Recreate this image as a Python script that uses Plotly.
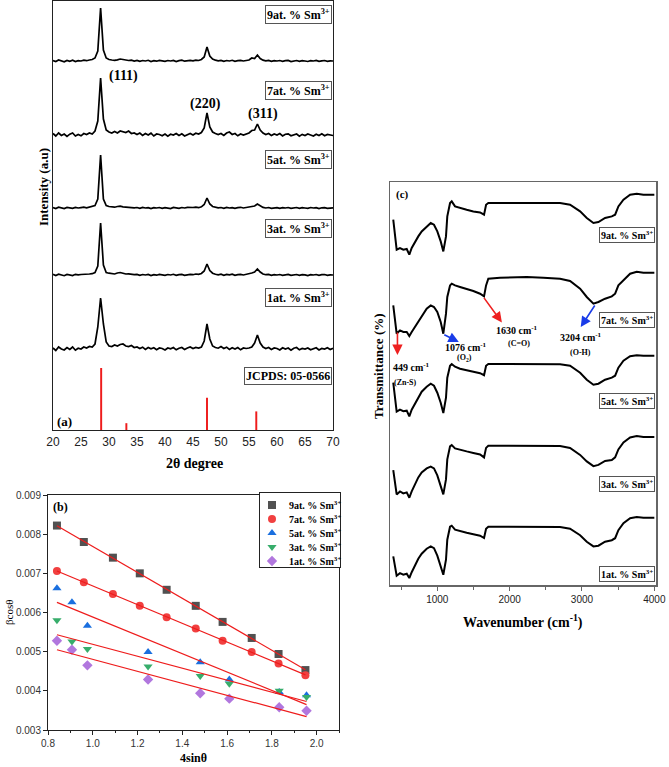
import numpy as np
import plotly.graph_objects as go

W, H = 669, 767
SERIF = "Liberation Serif"
SANS = "Liberation Sans"

# ---------------- Panel (a): XRD patterns ----------------
two_theta = [20 + 0.5 * i for i in range(101)]  # 20 .. 70 deg, 0.5 deg step

xrd_9at = [0.5, -0.5, 1, 0, -0.8, 0.6, -0.3, 0.8, -0.6, 0.4,
           0, 0.8, 0.3, 1, 1.5, 3, 10, 53, 11, 3,
           1.5, 1, 0.6, 1.2, 2, 1.5, 1, 0.5, 0.8, 0,
           0.6, -0.4, 0.5, 0, 0.7, -0.5, 0.3, -0.2, 0.6, 0,
           -0.4, 0.5, 0, 0.6, -0.5, 0.3, 0.8, -0.2, 0.4, 0.6,
           0.2, 0.9, 0.5, 1.5, 4, 14, 5, 2, 0.8, 0.2,
           0.6, -0.3, 0.5, 0, 0.7, -0.4, 0.3, 0.6, 0, 0.5,
           1, 3, 2.5, 6, 2.5, 0.8, 0.2, 0.6, -0.3, 0.4,
           0, 0.5, -0.4, 0.3, 0.6, -0.5, 0.2, 0.5, -0.3, 0.4,
           0, -0.5, 0.4, 0, 0.6, -0.3, 0.2, 0.5, -0.4, 0.2,
           0]
xrd_7at = [1.5, -1, 2, -0.5, 1, -1.5, 0.8, 2, -1, 0.5,
           -0.8, 1.5, 0.5, 2, 1, 4, 14, 57, 16, 5,
           3, 2, 3.5, 2, 4, 3, 2.5, 4, 1.5, 2,
           0.5, 2, -0.5, 1.5, 0, 1.8, -1, 1, 0.5, -0.8,
           1, -1.2, 0.8, 0, 1.5, -0.5, 1.2, -1, 0.5, 1.5,
           0, 1.8, 1, 2.5, 7, 22, 8, 3, 1.5, 0.5,
           1.5, -0.5, 2, 3, 0.5, 1.5, -0.8, 1, 0, 1.2,
           2, 4.5, 5, 11, 5, 2, 0.5, 1.5, -0.5, 1,
           0, 1.5, -1, 0.8, 1.2, -0.8, 0.5, 1, -1.2, 0.6,
           -0.5, 1, 0, -1, 0.8, -0.5, 1.2, -0.8, 0.5, 0,
           -0.5]
xrd_5at = [0.5, -0.5, 0.8, 0, -0.6, 0.5, 0.2, -0.4, 0.6, 0,
           0.4, 0.8, 0.2, 1, 1.2, 2.5, 9, 53, 9, 2.5,
           1.5, 1, 0.8, 1.5, 1.8, 1.2, 0.8, 1, 0.4, 0.2,
           0.5, -0.3, 0.6, 0, 0.4, -0.5, 0.3, 0, 0.5, -0.3,
           0.4, 0, -0.5, 0.6, 0.2, -0.3, 0.5, 0, 0.6, 0.3,
           0.5, 0.8, 0.3, 1.2, 3.5, 10, 4, 1.5, 0.6, 0.2,
           0.5, -0.3, 0.6, 0, 0.4, -0.4, 0.3, 0.7, 0, 0.5,
           0.8, 1.5, 2, 4, 2, 0.6, 0, 0.5, -0.3, 0.2,
           0.4, -0.4, 0.3, 0, 0.5, -0.3, 0.2, 0.5, -0.3, 0.3,
           0, -0.4, 0.5, 0, 0.3, -0.5, 0.2, 0.4, -0.3, 0,
           0.2]
xrd_3at = [0.6, -0.5, 0.8, 0, -0.7, 0.6, 0.2, -0.5, 0.7, 0.1,
           0.5, 0.6, 0.3, 1, 1.3, 2.5, 9, 52, 10, 2.5,
           1.8, 1.2, 1, 2, 2.5, 1.8, 1, 1.2, 0.5, 0.3,
           0.6, -0.4, 0.5, 0, 0.6, -0.5, 0.4, -0.2, 0.6, 0,
           -0.3, 0.5, 0, 0.7, -0.4, 0.3, 0.6, -0.3, 0.5, 0.7,
           0.3, 1, 0.6, 1.5, 4, 11, 4.5, 1.8, 0.7, 0.2,
           0.8, -0.3, 0.6, 0.2, 0.8, -0.4, 0.3, 0.6, 0, 0.5,
           1, 2, 3, 6, 3, 1, 0.3, 0.6, -0.3, 0.4,
           0, 0.5, -0.4, 0.4, 0.6, -0.4, 0.2, 0.5, -0.3, 0.4,
           0.1, -0.5, 0.4, 0, 0.5, -0.3, 0.3, 0.5, -0.4, 0.2,
           0]
xrd_1at = [1, -1.5, 2, 0, -1, 1.5, -0.5, 2, -1.2, 0.8,
           0, 2, 1, 2.5, 2, 5, 22, 51, 25, 7,
           3, 2.5, 4, 3, 4.5, 5, 3, 2.5, 3.5, 1.5,
           2, 0.5, 1.8, -0.5, 1.5, 0.2, 1.2, -0.8, 1, 0.5,
           -1, 1, 0.2, 1.5, -0.8, 0.8, 1.5, -0.5, 1, 2,
           0.5, 1.5, 1, 2, 8, 25, 10, 3, 1.5, 0.8,
           2.5, 0.5, 1.8, -0.5, 1.2, 0, 1.5, -0.8, 1, 0.5,
           1, 2, 6, 14, 6, 2, 0.5, 1.5, -0.5, 1,
           0.5, -1, 1.2, 0, 1, -1.2, 0.8, 1.5, -0.8, 0.5,
           0, 1, -0.8, 0.5, 1.2, -1, 0.6, 0, 1.2, -0.5,
           0.8]
xrd_series = [xrd_1at, xrd_3at, xrd_5at, xrd_7at, xrd_9at]
xrd_offsets = [81, 155, 222, 295, 369]
sample_labels = ["1at. % Sm<sup>3+</sup>", "3at. % Sm<sup>3+</sup>", "5at. % Sm<sup>3+</sup>",
                 "7at. % Sm<sup>3+</sup>", "9at. % Sm<sup>3+</sup>"]
xrd_label_y = [133, 201, 270, 339, 415]

jcpds_pos = [28.6, 33.1, 47.5, 56.3]
jcpds_int = [100, 11, 52, 30]
jcpds_scale = 0.62

hkl_labels = ["(111)", "(220)", "(311)"]
hkl_x = [32.5, 47.3, 57.5]
hkl_y = [354, 326, 316]

# ---------------- Panel (b): W-H plot ----------------
wh_x_long = [0.84, 0.96, 1.09, 1.21, 1.33, 1.46, 1.58, 1.71, 1.83, 1.95]
wh_x_short = [0.84, 0.907, 0.976, 1.247, 1.48, 1.61, 1.833, 1.955]
wh_9at = [0.00822, 0.00780, 0.00740, 0.00700, 0.00658, 0.00617, 0.00576, 0.00535, 0.00494, 0.00453]
wh_7at = [0.00706, 0.00677, 0.00647, 0.00617, 0.00588, 0.00559, 0.00528, 0.00499, 0.00470, 0.00440]
wh_5at = [0.00662, 0.00626, 0.00566, 0.00499, 0.00473, 0.00429, 0.00397, 0.00389]
wh_3at = [0.00580, 0.00526, 0.00507, 0.00462, 0.00438, 0.00418, 0.00400, 0.00384]
wh_1at = [0.00528, 0.00505, 0.00465, 0.00429, 0.00394, 0.00380, 0.00358, 0.00349]

wh_names = ["9at. % Sm<sup>3+</sup>", "7at. % Sm<sup>3+</sup>", "5at. % Sm<sup>3+</sup>",
            "3at. % Sm<sup>3+</sup>", "1at. % Sm<sup>3+</sup>"]
wh_data = [(wh_x_long, wh_9at), (wh_x_long, wh_7at), (wh_x_short, wh_5at),
           (wh_x_short, wh_3at), (wh_x_short, wh_1at)]
wh_symbols = ["square", "circle", "triangle-up", "triangle-down", "diamond"]
wh_colors = ["#515151", "#F14040", "#1A6FDF", "#37AD6B", "#B177DE"]

# ---------------- Panel (c): FTIR ----------------
wavenumber = [391, 438, 484, 530, 577, 613, 646, 692, 737, 784, 853, 909, 954, 1000, 1047,
              1083, 1120, 1138, 1176, 1199, 1245, 1314, 1406, 1498, 1591, 1646, 1674, 1705,
              1867, 2236, 2466, 2697, 2835, 2974, 3066, 3158, 3227, 3319, 3412, 3458, 3503,
              3573, 3665, 3757, 3849, 4000]
ftir_9at = [35, 5, 6.7, 5, 5.7, 0, 6.7, 13.3, 18.3, 23.3, 28.3, 31.7, 30, 23.3, 13.3,
            3.3, 18.3, 38.3, 51.7, 53.3, 48.3, 46.7, 45, 43.3, 42.3, 40, 50, 51.7,
            51.7, 52.3, 51.7, 51.7, 50, 43.3, 36.7, 31.7, 32.7, 36.7, 38.3, 40, 48.3,
            55, 60, 61, 60, 60]
ftir_7at = [23.3, -5, -1.7, -3.3, -3.3, -7.3, -3.3, 1.7, 6.7, 11.7, 20, 23.3, 21.7, 16.7, 6.7,
            -5, 15, 31.7, 43.3, 45, 43.3, 41.7, 40, 37.7, 35, 32.3, 43.3, 50,
            51, 51.7, 51, 50, 47.7, 40, 31.7, 25, 26.7, 30, 32.3, 35, 43.3,
            48.3, 55, 57, 56, 56]
ftir_5at = [33, 4, 6, 4.5, 5, -0.7, 6, 12, 18, 24, 29, 32, 30, 23, 13,
            2.7, 18, 38, 50, 51.7, 49, 47, 45.5, 44, 42.5, 40.5, 50, 51.7,
            51.7, 52, 51.7, 51.5, 50, 43, 36, 31, 32, 36, 38, 40, 48,
            55, 59.5, 60.5, 60, 60]
ftir_3at = [27.3, 3, 6, 4, 5, -0.3, 6, 14, 20, 25, 29, 30.7, 29, 22, 12,
            3, 18, 38, 51, 52.3, 49, 47.5, 46, 44.5, 43, 40, 49.5, 51.7,
            51.7, 52, 51.7, 51.5, 49.5, 42.5, 36, 31.3, 32.5, 36.5, 37.3, 40, 48,
            55, 60, 61.3, 60.5, 60.5]
ftir_1at = [22.3, 3, 5.5, 4, 5, 0.7, 6.5, 14, 20, 25, 30, 32.3, 30.5, 23, 13,
            4, 19, 39, 52, 53, 49, 47.5, 46, 44.5, 43, 40.7, 50, 52,
            52, 52.3, 52, 51.7, 50, 43.5, 37, 32.3, 33, 37, 38.5, 40.5, 48.5,
            55.5, 60.5, 61.7, 61, 61]
ftir_series = [ftir_1at, ftir_3at, ftir_5at, ftir_7at, ftir_9at]
ftir_offsets = [6.3, 87.6, 169.3, 256.3, 330.3]
ftir_label_y = [11, 101, 184, 265, 350]

# ---------------- Figure ----------------
fig = go.Figure()

# (a)
for inten, off in zip(xrd_series, xrd_offsets):
    fig.add_trace(go.Scatter(x=two_theta, y=[v + off for v in inten], mode="lines",
                             line=dict(color="black", width=1.7), xaxis="x", yaxis="y",
                             showlegend=False, hoverinfo="skip"))
fig.add_trace(go.Bar(x=jcpds_pos, y=[v * jcpds_scale for v in jcpds_int], width=0.35,
                     marker=dict(color="#ee1c1c", line=dict(width=0)), xaxis="x", yaxis="y",
                     showlegend=False, hoverinfo="skip"))

# (b)
for name, (xs, ys), sym, col in zip(wh_names, wh_data, wh_symbols, wh_colors):
    fig.add_trace(go.Scatter(x=xs, y=ys, mode="markers", name=name,
                             marker=dict(symbol=sym, color=col, size=8, line=dict(width=0)),
                             xaxis="x2", yaxis="y2", showlegend=False))
for xs, ys in wh_data:
    m, c = np.polyfit(xs, ys, 1)
    xl = [min(xs), max(xs)]
    fig.add_trace(go.Scatter(x=xl, y=[m * v + c for v in xl], mode="lines",
                             line=dict(color="#ee1c1c", width=1.2), xaxis="x2", yaxis="y2",
                             showlegend=False, hoverinfo="skip"))

# legend of panel (b): one key row per series, drawn on its own small axes
for i, (sym, col) in enumerate(zip(wh_symbols, wh_colors)):
    fig.add_trace(go.Scatter(x=[12], y=[i], mode="markers",
                             marker=dict(symbol=sym, color=col, size=8, line=dict(width=0)),
                             xaxis="x4", yaxis="y4", showlegend=False, hoverinfo="skip"))

# (c)
for tr, off in zip(ftir_series, ftir_offsets):
    fig.add_trace(go.Scatter(x=wavenumber, y=[v + off for v in tr], mode="lines",
                             line=dict(color="black", width=2), xaxis="x3", yaxis="y3",
                             showlegend=False, hoverinfo="skip"))


def px_x(p):
    return p / W


def px_y(p):
    return 1 - p / H


def txt(text, x, y, size, bold=True, angle=0, xa="center", ya="middle", **kw):
    f = dict(family=SERIF, size=size, color="black")
    if bold:
        f["weight"] = "bold"
    return dict(text=text, xref="paper", yref="paper", x=px_x(x), y=px_y(y), xanchor=xa,
                yanchor=ya, textangle=angle, showarrow=False, font=f, **kw)


ann = []
# panel (a) sample labels
for lab, yv in zip(sample_labels, xrd_label_y):
    ann.append(dict(text=lab, xref="x domain", yref="y", x=0.997, y=yv, xanchor="right",
                    yanchor="middle", showarrow=False, bordercolor="#555", borderwidth=1,
                    borderpad=1, bgcolor="white",
                    font=dict(family=SERIF, size=12, color="black", weight="bold")))
ann.append(dict(text="JCPDS: 05-0566", xref="x domain", yref="y", x=0.997, y=54, xanchor="right",
                yanchor="middle", showarrow=False, bordercolor="#555", borderwidth=1,
                borderpad=1, bgcolor="white",
                font=dict(family=SERIF, size=12, color="black", weight="bold")))
for lab, xv, yv in zip(hkl_labels, hkl_x, hkl_y):
    ann.append(dict(text=lab, xref="x", yref="y", x=xv, y=yv, xanchor="center",
                    yanchor="middle", showarrow=False,
                    font=dict(family=SERIF, size=14, color="black", weight="bold")))
ann.append(dict(text="(a)", xref="x", yref="y", x=20.3, y=9, xanchor="left", yanchor="middle",
                showarrow=False, font=dict(family=SERIF, size=13, color="black", weight="bold")))
ann.append(txt("2θ degree", 194, 463, 14))
ann.append(txt("Intensity (a.u)", 43, 187, 13, angle=-90))

# panel (b)
ann.append(txt("(b)", 51, 507, 12, xa="left"))
ann.append(txt("βcosθ", 9, 612, 11, bold=False, angle=-90))
ann.append(txt("4sinθ", 193, 758, 12))
for i, name in enumerate(wh_names):
    ann.append(dict(text=name, xref="x4", yref="y4", x=27, y=i, xanchor="left",
                    yanchor="middle", showarrow=False,
                    font=dict(family=SERIF, size=10, color="black", weight="bold")))

# panel (c)
for lab, yv in zip(sample_labels, ftir_label_y):
    ann.append(dict(text=lab, xref="x3 domain", yref="y3", x=0.997, y=yv, xanchor="right",
                    yanchor="middle", showarrow=False, bordercolor="#555", borderwidth=1,
                    borderpad=1, bgcolor="white",
                    font=dict(family=SERIF, size=10, color="black", weight="bold")))
ann.append(txt("(c)", 394, 194, 11, xa="left"))
ann.append(txt("Transmittance (%)", 378, 366, 13, angle=-90))
ann.append(txt("Wavenumber (cm<sup>-1</sup>)", 523, 621, 14))

RED, BLUE = "#ee2020", "#1a3ce8"
arrows = [  # (tail wn, tail y, head dx px, head dy px, colour)
    (449, 254, 0, 24, RED),
    (1076, 251, 16, 8, BLUE),
    (1630, 288.6, 19, 26, RED),
    (3190, 281, -15, 23, BLUE),
]
for wn, yv, dx, dy, col in arrows:
    ann.append(dict(text="", xref="x3", yref="y3", x=wn + dx / 0.0723, y=yv - dy,
                    ax=-dx, ay=-dy, axref="pixel", ayref="pixel", showarrow=True,
                    arrowhead=2, arrowsize=1.3, arrowwidth=1.6, arrowcolor=col))

peak_txt = [
    ("449 cm<sup>-1</sup>", 366, 218, "left", 10),
    ("(Zn-S)", 372, 203, "left", 8),
    ("1076 cm<sup>-1</sup>", 1403, 238, "center", 10),
    ("(O<sub>2</sub>)", 1375, 227, "center", 8),
    ("1630 cm<sup>-1</sup>", 2097, 255, "center", 10),
    ("(C=O)", 2125, 242, "center", 8),
    ("3204 cm<sup>-1</sup>", 2986, 248, "center", 10),
    ("(O-H)", 2986, 233, "center", 8),
]
for t, xv, yv, anc, fs in peak_txt:
    ann.append(dict(text=t, xref="x3", yref="y3", x=xv, y=yv, xanchor=anc, yanchor="middle",
                    showarrow=False,
                    font=dict(family=SERIF, size=fs, color="black", weight="bold")))

axis_common = dict(showgrid=False, zeroline=False, showline=True, mirror=True, automargin=False)

fig.update_layout(
    width=W, height=H, margin=dict(l=0, r=0, t=0, b=0, pad=0, autoexpand=False),
    paper_bgcolor="white", plot_bgcolor="white", showlegend=False, hovermode=False,
    xaxis=dict(domain=[px_x(53), px_x(333)], range=[20, 70], dtick=5, tick0=20, anchor="y",
               linecolor="#222", linewidth=1.3, ticks="",
               tickfont=dict(family=SANS, size=12, color="#222"), **axis_common),
    yaxis=dict(domain=[px_y(430), px_y(1)], range=[0, 429], showticklabels=False, ticks="",
               anchor="x", linecolor="#222", linewidth=1.3, **axis_common),
    xaxis2=dict(domain=[px_x(48), px_x(339)], range=[0.8, 2.1], dtick=0.2, tick0=0.8,
                tickformat=".1f", anchor="y2", linecolor="#222", linewidth=1, ticks="outside",
                ticklen=4, tickcolor="#222", minor=dict(ticks="outside", ticklen=2, dtick=0.1),
                tickfont=dict(family=SANS, size=10, color="#333"), **axis_common),
    yaxis2=dict(domain=[px_y(730), px_y(495)], range=[0.003, 0.009], dtick=0.001,
                tickformat=".3f", anchor="x2", linecolor="#222", linewidth=1, ticks="outside",
                ticklen=4, tickcolor="#222",
                tickfont=dict(family=SANS, size=10, color="#333"), **axis_common),
    xaxis3=dict(domain=[px_x(390), px_x(656)], range=[346, 4023], dtick=1000, tick0=0,
                anchor="y3", linecolor="#666", linewidth=1.5, ticks="outside", ticklen=4,
                tickcolor="#666", minor=dict(ticks="outside", ticklen=3, dtick=500, tick0=0),
                tickfont=dict(family=SANS, size=10, color="#222"), **axis_common),
    yaxis3=dict(domain=[px_y(585), px_y(182)], range=[0, 403], showticklabels=False, ticks="",
                anchor="x3", linecolor="#666", linewidth=1.5, **axis_common),
    xaxis4=dict(domain=[px_x(260), px_x(340)], range=[0, 80], showticklabels=False, ticks="",
                anchor="y4", linecolor="#222", linewidth=1, fixedrange=True, **axis_common),
    yaxis4=dict(domain=[px_y(567), px_y(493)], range=[4.43, -0.857], showticklabels=False,
                ticks="", anchor="x4", linecolor="#222", linewidth=1, fixedrange=True,
                **axis_common),
    annotations=ann,
)

fig.write_html("out.html", config={"displayModeBar": False, "staticPlot": True},
               post_script="document.body.style.margin='0';document.body.style.overflow='hidden';")
